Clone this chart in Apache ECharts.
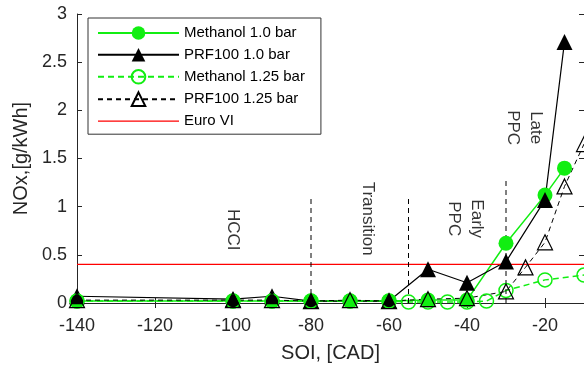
<!DOCTYPE html>
<html>
<head>
<meta charset="utf-8">
<script src="https://cdn.jsdelivr.net/npm/echarts@6/dist/echarts.min.js"></script>
<style>
html,body{margin:0;padding:0;background:#fff;}
#chart{width:584px;height:370px;}
</style>
</head>
<body>
<div id="chart"></div>
<script>
// ---- data ----
var meth10X = [-140, -100, -90, -80, -70, -60, -50, -40, -30, -20, -15];
var meth10Y = [0.02, 0.02, 0.02, 0.02, 0.02, 0.02, 0.03, 0.03, 0.62, 1.12, 1.40];

var prf10X = [-140, -100, -90, -80, -60, -50, -40, -30, -20, -15];
var prf10Y = [0.07, 0.04, 0.07, 0.02, 0.02, 0.35, 0.21, 0.43, 1.07, 2.71];

var meth125X = [-140, -100, -90, -80, -70, -60, -55, -50, -45, -40, -35, -30, -20, -10];
var meth125Y = [0.02, 0.02, 0.02, 0.02, 0.02, 0.02, 0.01, 0.01, 0.01, 0.01, 0.02, 0.13, 0.24, 0.29];

var prf125X = [-140, -100, -90, -80, -70, -60, -50, -40, -30, -25, -20, -15, -10];
var prf125Y = [0.03, 0.03, 0.03, 0.02, 0.03, 0.02, 0.04, 0.05, 0.12, 0.37, 0.63, 1.21, 1.65];

var euroX = [-140, -10];
var euroY = [0.4, 0.4];

var boundaryX = [-80, -55, -30];
var boundaryTop = [1.1, 1.1, 1.3];

var regionNames = ['HCCI', 'Transition', 'Early\nPPC', 'Late\nPPC'];
var regionX = [-100, -65.4, -40.5, -25.4];
var regionY = [0.76, 0.875, 0.875, 1.82];

var seriesNames = ['Methanol 1.0 bar', 'PRF100 1.0 bar', 'Methanol 1.25 bar', 'PRF100 1.25 bar', 'Euro VI'];

// ---- helpers ----
function pairs(xs, ys) { return xs.map(function (x, i) { return [x, ys[i]]; }); }

var GREEN = '#11ee11';
var RED = '#ff0000';
var AX = '#262626';
var FONT = '"Liberation Sans", Arial, Helvetica, sans-serif';

var series = [
  {
    name: seriesNames[0], type: 'line', data: pairs(meth10X, meth10Y),
    symbol: 'circle', symbolSize: 15,
    lineStyle: { color: GREEN, width: 1.5, type: 'solid' },
    itemStyle: { color: GREEN, borderColor: GREEN, borderWidth: 0 }
  },
  {
    name: seriesNames[1], type: 'line', data: pairs(prf10X, prf10Y),
    symbol: 'triangle', symbolSize: 16,
    lineStyle: { color: '#000', width: 1.2, type: 'solid' },
    itemStyle: { color: '#000', borderColor: '#000', borderWidth: 0 }
  },
  {
    name: seriesNames[2], type: 'line', data: pairs(meth125X, meth125Y),
    symbol: 'circle', symbolSize: 14,
    lineStyle: { color: GREEN, width: 1.5, type: [6, 4] },
    itemStyle: { color: 'rgba(0,0,0,0)', borderColor: GREEN, borderWidth: 1.5 }
  },
  {
    name: seriesNames[3], type: 'line', data: pairs(prf125X, prf125Y),
    symbol: 'triangle', symbolSize: 15,
    lineStyle: { color: '#000', width: 1, type: [5, 4] },
    itemStyle: { color: 'rgba(0,0,0,0)', borderColor: '#000', borderWidth: 1.2 }
  },
  {
    name: seriesNames[4], type: 'line', data: pairs(euroX, euroY),
    symbol: 'none',
    lineStyle: { color: RED, width: 1.3 },
    itemStyle: { color: RED }
  }
];

boundaryX.forEach(function (x, i) {
  series.push({
    name: 'boundary' + i, type: 'line', data: [[x, 0], [x, boundaryTop[i]]],
    symbol: 'none', silent: true,
    lineStyle: { color: '#000', width: 1, type: [5, 4] }
  });
});

series.push({
  name: 'regions', type: 'scatter', silent: true,
  symbolSize: 1, itemStyle: { color: 'rgba(0,0,0,0)' },
  data: regionNames.map(function (n, i) { return { name: n, value: [regionX[i], regionY[i]] }; }),
  label: {
    show: true, position: 'inside', rotate: -90,
    formatter: function (p) { return p.name; },
    fontFamily: FONT, fontSize: 17, color: '#000', lineHeight: 23, align: 'center', verticalAlign: 'middle'
  }
});

var legendData = seriesNames.map(function (n, i) {
  if (i === 4) {
    return { name: n, icon: 'path://M0,0 L81,0 L81,1.3 L0,1.3 Z', itemStyle: { color: RED } };
  }
  return { name: n };
});

var chart = echarts.init(document.getElementById('chart'), null, { renderer: 'canvas' });
chart.setOption({
  animation: false,
  backgroundColor: '#fff',
  grid: { left: 77, right: 0, top: 14, bottom: 67, containLabel: false },
  legend: {
    data: legendData,
    orient: 'vertical',
    left: 88, top: 18,
    padding: [7.5, 16, 5.5, 9],
    itemWidth: 81, itemHeight: 17, itemGap: 6.75,
    symbolKeepAspect: true,
    backgroundColor: '#fff',
    borderColor: '#333', borderWidth: 1, borderRadius: 0,
    textStyle: { fontFamily: FONT, fontSize: 15, lineHeight: 15, color: '#000' },
    selectedMode: false
  },
  xAxis: [
    {
      type: 'value', min: -140, max: -10, interval: 20, position: 'bottom',
      name: 'SOI, [CAD]', nameLocation: 'middle', nameGap: 40,
      nameTextStyle: { fontFamily: FONT, fontSize: 20, color: AX },
      axisLine: { show: true, lineStyle: { color: AX, width: 1 } },
      axisTick: { show: true, inside: true, length: 5, lineStyle: { color: AX } },
      axisLabel: { fontFamily: FONT, fontSize: 18, color: AX, margin: 14, showMaxLabel: false },
      splitLine: { show: false }
    },
    {
      type: 'value', min: -140, max: -10, interval: 20, position: 'top',
      axisLine: { show: true, lineStyle: { color: AX, width: 1 } },
      axisTick: { show: true, inside: true, length: 5, lineStyle: { color: AX } },
      axisLabel: { show: false },
      splitLine: { show: false }
    }
  ],
  yAxis: [
    {
      type: 'value', min: 0, max: 3, interval: 0.5, position: 'left',
      name: 'NOx,[g/kWh]', nameLocation: 'middle', nameGap: 43,
      nameTextStyle: { fontFamily: FONT, fontSize: 20, color: AX },
      axisLine: { show: true, lineStyle: { color: AX, width: 1 } },
      axisTick: { show: true, inside: true, length: 5, lineStyle: { color: AX } },
      axisLabel: { fontFamily: FONT, fontSize: 18, color: AX, margin: 10 },
      splitLine: { show: false }
    },
    {
      type: 'value', min: 0, max: 3, interval: 0.5, position: 'right',
      axisLine: { show: true, lineStyle: { color: AX, width: 1 } },
      axisTick: { show: true, inside: true, length: 5, lineStyle: { color: AX } },
      axisLabel: { show: false },
      splitLine: { show: false }
    }
  ],
  series: series
});
</script>
</body>
</html>
